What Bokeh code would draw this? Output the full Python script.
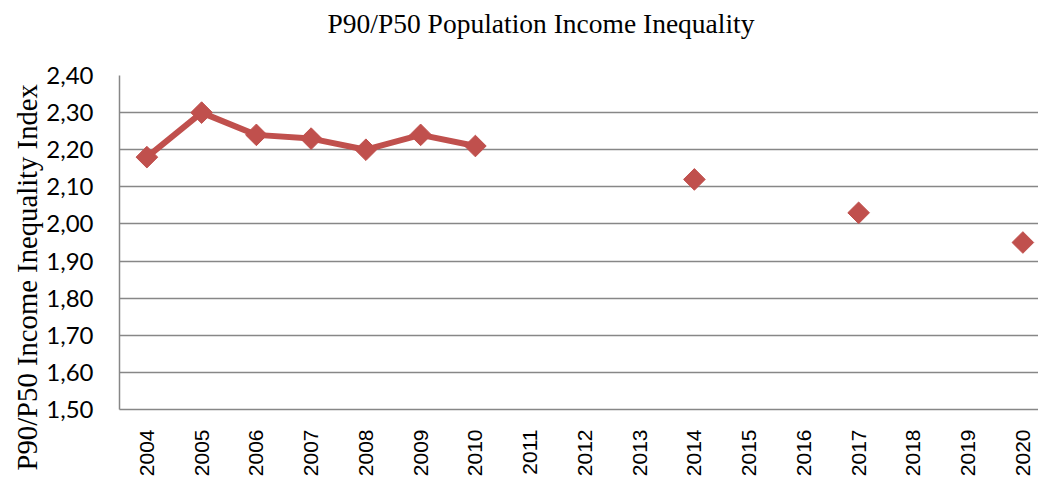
from bokeh.plotting import figure
from bokeh.models import Range1d, FixedTicker, CustomJSTickFormatter, Title, ColumnDataSource
from bokeh.embed import file_html
from bokeh.resources import INLINE
import numpy as np

years = [2004, 2005, 2006, 2007, 2008, 2009, 2010, 2011, 2012, 2013, 2014, 2015, 2016, 2017, 2018, 2019, 2020]
values = [2.18, 2.30, 2.24, 2.23, 2.20, 2.24, 2.21, None, None, None, 2.12, None, None, 2.03, None, None, 1.95]
y_ticks = [1.5, 1.6, 1.7, 1.8, 1.9, 2.0, 2.1, 2.2, 2.3, 2.4]
title_text = "P90/P50 Population Income Inequality"
y_label = "P90/P50 Income Inequality Index"

RED = "#C0504D"
GRID = "#878787"

yv = np.array([np.nan if v is None else v for v in values], dtype=float)
src = ColumnDataSource(dict(x=years, y=yv))

W, H = 1038, 479
p = figure(width=W, height=H, output_backend="svg", toolbar_location=None,
           x_range=Range1d(2003.5, 2003.5 + 919 / 54.75), y_range=Range1d(1.5, 2.4),
           min_border_left=119, min_border_right=0, min_border_top=75, min_border_bottom=70)
p.outline_line_color = None
p.background_fill_color = "white"

p.line("x", "y", source=src, line_color=RED, line_width=6, line_join="round")
p.scatter("x", "y", source=src, marker="square", size=15.3, angle=np.pi / 4,
          fill_color=RED, line_color=RED)

# axes
p.xaxis.ticker = FixedTicker(ticks=years)
p.xaxis.major_label_orientation = np.pi / 2
p.xaxis.major_label_text_font = "Liberation Sans"
p.xaxis.major_label_text_font_size = "21px"
p.xaxis.major_label_text_color = "black"
p.xaxis.major_tick_line_color = None
p.xaxis.minor_tick_line_color = None
p.xaxis.major_label_standoff = 14
p.xaxis.axis_line_color = GRID
p.xaxis.axis_line_width = 1.5

p.yaxis.ticker = FixedTicker(ticks=y_ticks)
p.yaxis.formatter = CustomJSTickFormatter(code="return tick.toFixed(2).replace('.', ',');")
p.yaxis.major_label_text_font = "Lato"
p.yaxis.major_label_text_font_size = "24px"
p.yaxis.major_label_text_color = "black"
p.yaxis.major_tick_line_color = None
p.yaxis.minor_tick_line_color = None
p.yaxis.major_label_standoff = 20
p.yaxis.axis_line_color = GRID
p.yaxis.axis_line_width = 1.5

p.xgrid.grid_line_color = None
p.ygrid.grid_line_color = GRID
p.ygrid.grid_line_width = 1.3

# title: an empty second line makes the title box taller so the text sits higher
p.title.text = title_text + "\n "
p.title.text_font = "Liberation Serif"
p.title.text_font_size = "27.5px"
p.title.text_font_style = "normal"
p.title.text_color = "black"
p.title.align = "left"
p.title.offset = 208
p.title.standoff = 8
p.title.vertical_align = "top"

ytitle = Title(text=y_label, align="left", offset=-61, text_font="Liberation Serif",
               text_font_size="28.7px", text_font_style="normal", text_color="black", standoff=2)
p.add_layout(ytitle, "left")

open("out.html", "w").write(file_html(p, INLINE))
